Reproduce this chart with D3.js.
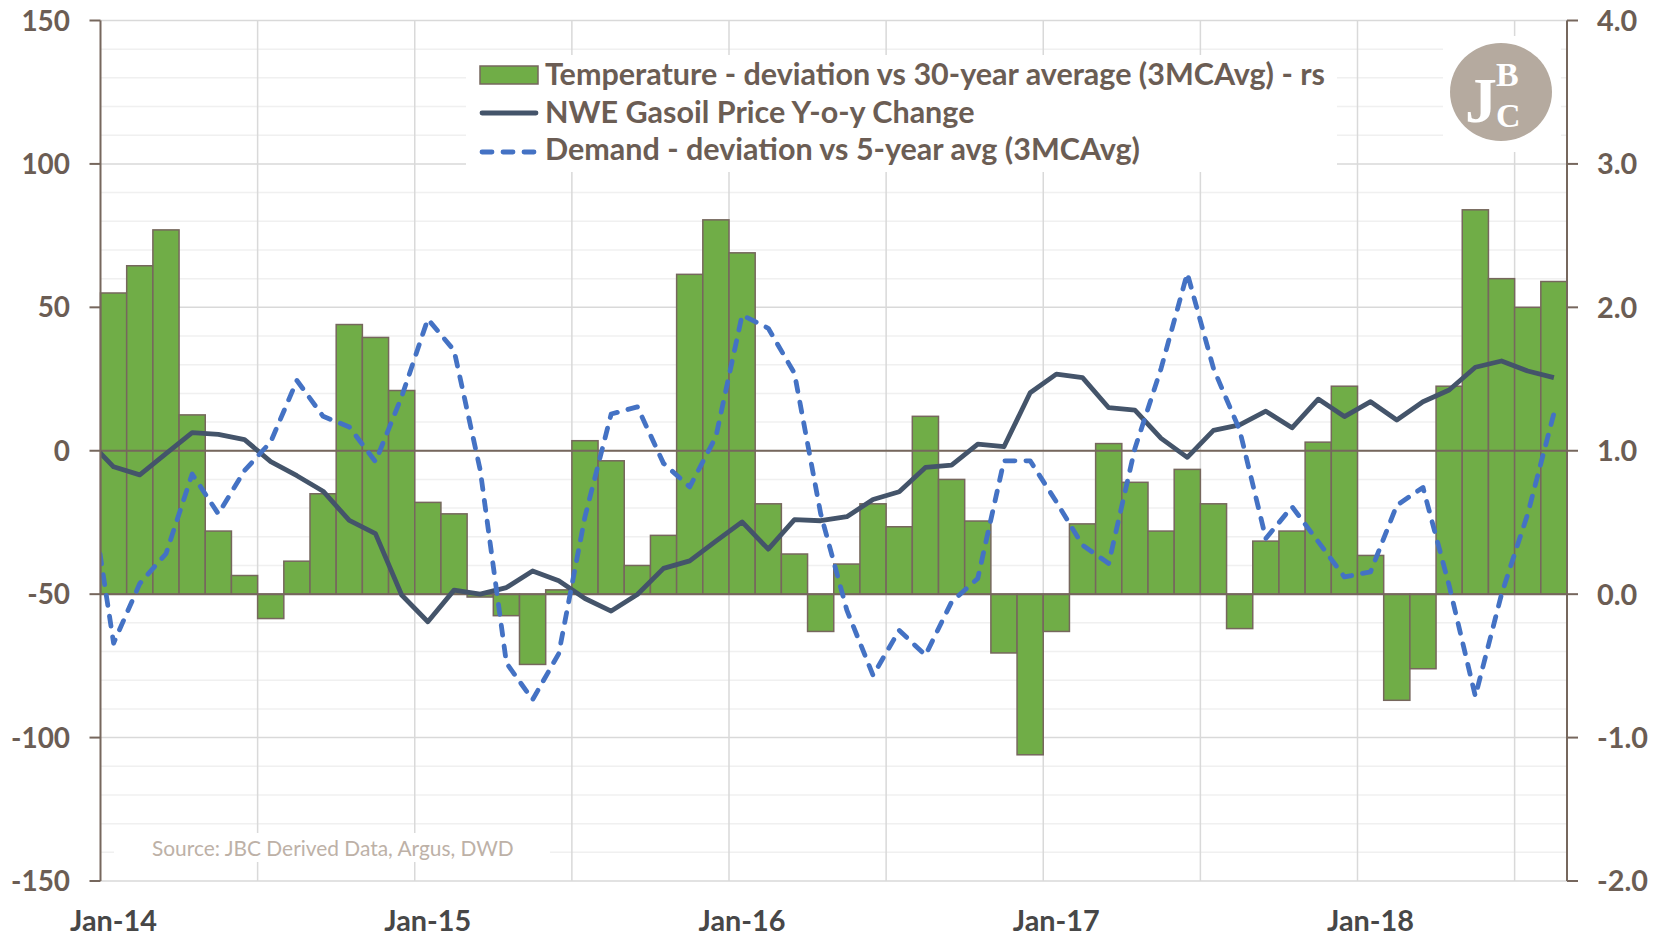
<!DOCTYPE html>
<html><head><meta charset="utf-8">
<script src="https://cdn.jsdelivr.net/npm/d3@7"></script>
<style>
html,body{margin:0;padding:0;background:#fff;}
svg{display:block;}
text{font-family:Lato,"Open Sans",sans-serif;}
text.logo{font-family:"Liberation Serif","DejaVu Serif",serif;font-weight:bold;}
</style></head>
<body>
<svg id="c" width="1665" height="936"></svg>
<script>
const months = ["Jan-14","Feb-14","Mar-14","Apr-14","May-14","Jun-14","Jul-14","Aug-14","Sep-14","Oct-14","Nov-14","Dec-14",
"Jan-15","Feb-15","Mar-15","Apr-15","May-15","Jun-15","Jul-15","Aug-15","Sep-15","Oct-15","Nov-15","Dec-15",
"Jan-16","Feb-16","Mar-16","Apr-16","May-16","Jun-16","Jul-16","Aug-16","Sep-16","Oct-16","Nov-16","Dec-16",
"Jan-17","Feb-17","Mar-17","Apr-17","May-17","Jun-17","Jul-17","Aug-17","Sep-17","Oct-17","Nov-17","Dec-17",
"Jan-18","Feb-18","Mar-18","Apr-18","May-18","Jun-18","Jul-18","Aug-18"];
const xTickLabels = ["Jan-14","Jan-15","Jan-16","Jan-17","Jan-18"];
const gridMonths = ["Jul-14","Jan-15","Jul-15","Jan-16","Jul-16","Jan-17","Jul-17","Jan-18","Jul-18"];
const leftTicks = [150,100,50,0,-50,-100,-150];
const rightTicks = [4.0,3.0,2.0,1.0,0.0,-1.0,-2.0];

// Temperature - deviation vs 30-year average (3MCAvg) - right scale
const temperature = [2.10,2.29,2.54,1.25,0.44,0.13,-0.17,0.23,0.70,1.88,1.79,1.42,
0.64,0.56,-0.02,-0.15,-0.49,0.03,1.07,0.93,0.20,0.41,2.23,2.61,
2.38,0.63,0.28,-0.26,0.21,0.63,0.47,1.24,0.80,0.51,-0.41,-1.12,
-0.26,0.49,1.05,0.78,0.44,0.87,0.63,-0.24,0.37,0.44,1.06,1.45,
0.27,-0.74,-0.52,1.45,2.68,2.20,2.00,2.18];

// line series start one month earlier (Dec-13), clipped at the plot edge
const lineMonths = ["Dec-13"].concat(months);
const gasoil = [3.8,
-5.6,-8.4,-1.0,6.3,5.7,3.9,-3.8,-8.7,-14.1,-24.3,-28.9,-50.3,
-59.6,-48.6,-50.0,-47.7,-41.9,-45.3,-51.5,-55.9,-50.1,-41.0,-38.4,-31.5,
-24.8,-34.3,-24.0,-24.4,-23.0,-17.0,-14.3,-5.8,-5.0,2.3,1.4,20.2,
26.7,25.5,15.0,14.2,4.3,-2.3,7.1,9.0,13.8,8.0,18.0,11.9,
17.1,10.7,17.1,21.2,29.1,31.3,27.8,25.5];
const demand = [-7.0,
-67.1,-46.3,-35.9,-8.1,-22.0,-6.9,3.1,24.5,12.0,8.3,-3.8,18.8,
45.9,35.0,-6.7,-74.0,-86.8,-70.7,-23.0,12.8,15.3,-4.4,-12.6,4.9,
47.3,42.7,27.0,-21.9,-55.6,-78.3,-62.6,-71.3,-52.7,-44.5,-3.5,-3.5,
-17.8,-32.9,-39.3,0.8,28.7,61.9,28.7,7.2,-30.6,-19.5,-31.7,-44.0,
-42.2,-19.0,-12.8,-47.0,-85.6,-50.0,-22.0,13.0];

const legendLabels = ["Temperature - deviation vs 30-year average (3MCAvg) - rs",
"NWE Gasoil Price Y-o-y Change","Demand - deviation vs 5-year avg (3MCAvg)"];
const sourceText = "Source: JBC Derived Data, Argus, DWD";

const L=100.5,R=1567,T=20.5,B=881;
const brown="#76675d", labelCol="#6b5d54", green="#70ad47", slate="#44546a", blue="#4472c4";
const lw=4.8, dash="10,11";

const svg=d3.select("#c");
const x=d3.scaleBand().domain(months).range([L,R]).paddingInner(0).paddingOuter(0);
const xi=d3.scaleLinear().domain([-0.5,months.length-0.5]).range([L,R]);
const yL=d3.scaleLinear().domain([-150,150]).range([B,T]);
const yR=d3.scaleLinear().domain([-2,4]).range([B,T]);

function fit(sel,target){const n=sel.node();const w=n.getComputedTextLength();const fs=parseFloat(sel.style("font-size"));sel.style("font-size",(fs*target/w)+"px");}

// minor gridlines
const minor=d3.range(-140,150,10).filter(v=>v%50!==0);
svg.append("g").selectAll("line").data(minor).join("line")
 .attr("x1",L).attr("x2",R).attr("y1",d=>yL(d)).attr("y2",d=>yL(d))
 .attr("stroke","#f0f0f0").attr("stroke-width",1.5);
// major gridlines
svg.append("g").selectAll("line").data(leftTicks).join("line")
 .attr("x1",L).attr("x2",R).attr("y1",d=>yL(d)).attr("y2",d=>yL(d))
 .attr("stroke","#d9d9d9").attr("stroke-width",1.5);
// vertical gridlines
svg.append("g").selectAll("line").data(gridMonths).join("line")
 .attr("x1",d=>x(d)).attr("x2",d=>x(d)).attr("y1",T).attr("y2",B)
 .attr("stroke","#d9d9d9").attr("stroke-width",1.5);

// legend background, source background, logo background
svg.append("rect").attr("x",466).attr("y",55).attr("width",871).attr("height",117).attr("fill","#fff");
svg.append("rect").attr("x",114).attr("y",833).attr("width",436).attr("height",29).attr("fill","#fff");
svg.append("rect").attr("x",1443).attr("y",36).attr("width",118).attr("height",116).attr("fill","#fff");

// bars
svg.append("g").selectAll("rect").data(temperature).join("rect")
 .attr("x",(d,i)=>x(months[i])).attr("width",x.bandwidth())
 .attr("y",d=>Math.min(yR(d),yR(0))).attr("height",d=>Math.abs(yR(d)-yR(0)))
 .attr("fill",green).attr("stroke",brown).attr("stroke-width",1.5);

// axis lines at 0 (left) and 0.0 (right)
svg.append("line").attr("x1",L).attr("x2",R).attr("y1",yL(0)).attr("y2",yL(0)).attr("stroke",brown).attr("stroke-width",2);
svg.append("line").attr("x1",L).attr("x2",R).attr("y1",yR(0)).attr("y2",yR(0)).attr("stroke",brown).attr("stroke-width",2);

// lines
svg.append("clipPath").attr("id","clip").append("rect").attr("x",L).attr("y",T-5).attr("width",R-L).attr("height",B-T+10);
const lineGen=d3.line().x((d,i)=>xi(i-1)).y(d=>yL(d));
svg.append("path").datum(gasoil).attr("d",lineGen).attr("clip-path","url(#clip)")
 .attr("fill","none").attr("stroke",slate).attr("stroke-width",lw).attr("stroke-linejoin","round");
svg.append("path").datum(demand).attr("d",lineGen).attr("clip-path","url(#clip)")
 .attr("fill","none").attr("stroke",blue).attr("stroke-width",lw).attr("stroke-linejoin","round")
 .attr("stroke-linecap","round").attr("stroke-dasharray",dash);

// axes lines
svg.append("line").attr("x1",L).attr("x2",L).attr("y1",T).attr("y2",B).attr("stroke",brown).attr("stroke-width",2);
svg.append("line").attr("x1",R).attr("x2",R).attr("y1",T).attr("y2",B).attr("stroke",brown).attr("stroke-width",2);
svg.append("g").selectAll("line").data(leftTicks).join("line")
 .attr("x1",L-11).attr("x2",L).attr("y1",d=>yL(d)).attr("y2",d=>yL(d)).attr("stroke",brown).attr("stroke-width",2);
svg.append("g").selectAll("line").data(rightTicks).join("line")
 .attr("x1",R).attr("x2",R+11).attr("y1",d=>yR(d)).attr("y2",d=>yR(d)).attr("stroke",brown).attr("stroke-width",2);

// left tick labels
const lt=svg.append("g").selectAll("text").data(leftTicks).join("text")
 .attr("x",70).attr("y",d=>yL(d)).attr("dy","0.36em").attr("text-anchor","end")
 .attr("fill",labelCol).style("font-weight","bold").style("font-size","30px").text(d=>d);
fit(lt.filter(d=>d===-150),59);
lt.style("font-size",lt.filter(d=>d===-150).style("font-size"));
// right tick labels
const rt=svg.append("g").selectAll("text").data(rightTicks).join("text")
 .attr("x",1597).attr("y",d=>yR(d)).attr("dy","0.36em").attr("text-anchor","start")
 .attr("fill",labelCol).style("font-weight","bold").style("font-size","30px").text(d=>d.toFixed(1));
fit(rt.filter(d=>d===-2),51);
rt.style("font-size",rt.filter(d=>d===-2).style("font-size"));
// x labels
const xt=svg.append("g").selectAll("text").data(xTickLabels).join("text")
 .attr("x",d=>x(d)+x.bandwidth()/2).attr("y",931).attr("text-anchor","middle")
 .attr("fill","#474747").style("font-weight","bold").style("font-size","30px").text(d=>d);
fit(xt.filter(d=>d==="Jan-17"),87);
xt.style("font-size",xt.filter(d=>d==="Jan-17").style("font-size"));

// legend
const lg=svg.append("g");
const rows=[85,123,160];
lg.append("rect").attr("x",480).attr("y",66).attr("width",58).attr("height",18).attr("fill",green).attr("stroke",brown).attr("stroke-width",1.5);
lg.append("line").attr("x1",482).attr("x2",536).attr("y1",113).attr("y2",113).attr("stroke",slate).attr("stroke-width",lw).attr("stroke-linecap","round");
lg.append("line").attr("x1",482).attr("x2",536).attr("y1",152).attr("y2",152).attr("stroke",blue).attr("stroke-width",lw).attr("stroke-linecap","round").attr("stroke-dasharray",dash);
const lt2=lg.selectAll("text").data(legendLabels).join("text")
 .attr("x",545).attr("y",(d,i)=>rows[i]).attr("fill",labelCol)
 .style("font-weight","bold").style("font-size","28px").text(d=>d);
fit(lt2.filter((d,i)=>i===0),780);
lt2.style("font-size",lt2.filter((d,i)=>i===0).style("font-size"));

// source
const st=svg.append("text").attr("x",152).attr("y",856).attr("fill","#bdb1a7").style("font-size","20px").text(sourceText);
fit(st,362);

// logo
const logo=svg.append("g").attr("fill","#fff");
logo.append("ellipse").attr("cx",1501).attr("cy",92).attr("rx",51).attr("ry",49).attr("fill","#b5aa9f");
logo.append("text").attr("class","logo").attr("x",1465).attr("y",122).style("font-size","64px").text("J");
logo.append("text").attr("class","logo").attr("x",1496).attr("y",86).style("font-size","34px").text("B");
logo.append("text").attr("class","logo").attr("x",1496).attr("y",127).style("font-size","34px").text("C");
</script>
</body></html>
